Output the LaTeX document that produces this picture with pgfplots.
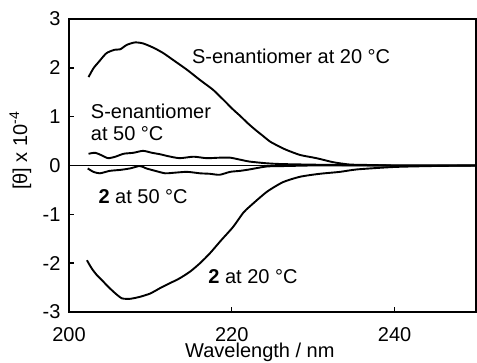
\documentclass[border=0pt]{standalone}
\usepackage{pgfplots}
\pgfplotsset{compat=1.18}
\usepackage{fontspec}
\setmainfont{Liberation Sans}
\newcommand{\bigf}{\fontsize{20}{24}\selectfont}
\begin{document}
\begin{tikzpicture}[font=\bigf]
\useasboundingbox (-69pt,-51pt) rectangle (408pt,312pt);
\begin{axis}[
  scale only axis, width=407pt, height=293pt,
  xmin=200, xmax=250, ymin=-3, ymax=3,
  xtick={200,220,240}, ytick={-3,-2,-1,0,1,2,3},
  xtick pos=bottom, ytick pos=left,
  tick align=inside, major tick length=5pt,
  every tick/.style={black, line width=1.4pt},
  axis line style={line width=1.6pt},
  /pgf/number format/assume math mode=true,
  tick label style={font=\bigf},
  xticklabel style={anchor=base, yshift=-29.5pt},
  yticklabel style={anchor=east, xshift=-5pt},
  clip=false,
]
\addplot[black, line width=1.6pt] coordinates {(200,0) (250,0)};
% S-enantiomer at 20 C
\addplot[black, line width=1.9pt, smooth, tension=0.4] coordinates {
(202.4,1.81) (203.0,1.99) (203.7,2.13) (204.6,2.30) (205.6,2.37) (206.3,2.38)
(207.1,2.47) (208.1,2.52) (209.1,2.50) (210.4,2.41) (211.6,2.30) (212.8,2.16)
(214.5,1.96) (216.1,1.75) (217.7,1.55) (219.0,1.34) (220.2,1.14) (221.0,1.02)
(222.0,0.86) (222.9,0.73) (223.8,0.61) (224.7,0.49) (225.7,0.40) (226.7,0.32)
(228.4,0.215) (230.4,0.15) (232.5,0.066) (234.5,0.02) (237,0.01) (240,0.0) (245,0.0) (250,0.0)};
% S-enantiomer at 50 C
\addplot[black, line width=1.9pt, smooth, tension=0.4] coordinates {
(202.4,0.24) (203.2,0.26) (204.0,0.21) (204.8,0.15) (205.7,0.18) (206.7,0.24)
(207.9,0.26) (209.1,0.30) (210.2,0.26) (211.2,0.23) (212.2,0.19) (213.6,0.15)
(215.3,0.18) (216.9,0.15) (218.5,0.16) (219.8,0.16) (221.0,0.12) (222.2,0.08)
(224.3,0.045) (226,0.03) (229,0.02) (233,0.01) (240,0.0) (250,0.0)};
% 2 at 50 C
\addplot[black, line width=1.9pt, smooth, tension=0.4] coordinates {
(202.3,-0.06) (203.0,-0.13) (203.8,-0.16) (205.0,-0.11) (206.3,-0.09) (207.5,-0.06)
(208.7,-0.01) (209.5,-0.06) (210.6,-0.11) (211.8,-0.16) (212.8,-0.15) (214.5,-0.13)
(216.1,-0.16) (217.3,-0.17) (218.5,-0.19) (219.8,-0.13) (221.0,-0.11) (222.2,-0.08)
(224.3,-0.02) (227,-0.01) (230,0.0) (240,0.0) (250,0.0)};
% 2 at 20 C
\addplot[black, line width=1.9pt, smooth, tension=0.4] coordinates {
(202.2,-1.94) (202.8,-2.11) (203.4,-2.24) (204.0,-2.34) (204.8,-2.48) (205.7,-2.62)
(206.5,-2.72) (207.5,-2.73) (208.7,-2.69) (210.0,-2.62) (211.2,-2.51) (212.4,-2.41)
(213.6,-2.31) (214.9,-2.17) (216.1,-2.00) (217.3,-1.80) (218.7,-1.53) (220.15,-1.26)
(221.4,-0.97) (222.2,-0.84) (224.3,-0.54) (226.3,-0.34) (228.4,-0.23) (230.8,-0.17)
(233.3,-0.13) (235.4,-0.08) (240,-0.03) (245,-0.01) (250,0.0)};
\node[anchor=base west, inner sep=0pt] at (axis cs:215.1,2.08) {S-enantiomer at 20 °C};
\node[anchor=base west, inner sep=0pt] at (axis cs:202.67,0.97) {S-enantiomer};
\node[anchor=base west, inner sep=0pt] at (axis cs:202.67,0.52) {at 50 °C};
\node[anchor=base west, inner sep=0pt] at (axis cs:203.6,-0.775) {\textbf{2} at 50 °C};
\node[anchor=base west, inner sep=0pt] at (axis cs:217.1,-2.41) {\textbf{2} at 20 °C};
\node[anchor=base, inner sep=0pt] at ([yshift=-46pt]axis description cs:0.469,0) {Wavelength / nm};
\node[anchor=base, inner sep=0pt, rotate=90] at (axis description cs:-0.103,0.55) {[θ] x 10\raisebox{0.75ex}{\fontsize{14}{16}\selectfont -4}};
\end{axis}
\end{tikzpicture}
\end{document}
